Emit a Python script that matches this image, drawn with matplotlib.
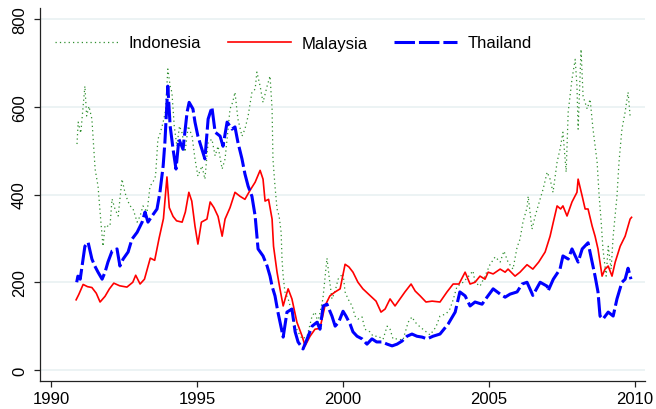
import numpy as np
import matplotlib
matplotlib.use("Agg")
import matplotlib.pyplot as plt

# stock index levels (decimal years)
idn_t = [1990.89, 1990.93, 1991.02, 1991.10, 1991.16, 1991.22, 1991.30, 1991.40, 1991.51, 1991.61,
         1991.70, 1991.78, 1991.85, 1991.92, 1992.02, 1992.09, 1992.19, 1992.30, 1992.43, 1992.53,
         1992.63, 1992.71, 1992.81, 1992.95, 1993.05, 1993.15, 1993.29, 1993.39, 1993.49, 1993.58,
         1993.66, 1993.74, 1993.84, 1993.92, 1994.00, 1994.08, 1994.14, 1994.22, 1994.31, 1994.40,
         1994.49, 1994.59, 1994.70, 1994.83, 1994.93, 1995.03, 1995.17, 1995.27, 1995.38, 1995.51,
         1995.62, 1995.72, 1995.86, 1995.96, 1996.05, 1996.13, 1996.22, 1996.30, 1996.40, 1996.54,
         1996.64, 1996.75, 1996.88, 1996.99, 1997.05, 1997.16, 1997.26, 1997.40, 1997.50, 1997.57,
         1997.60, 1997.67, 1997.74, 1997.81, 1997.88, 1997.91, 1997.95, 1998.01, 1998.12, 1998.25,
         1998.36, 1998.46, 1998.60, 1998.77, 1998.94, 1999.04, 1999.14, 1999.31, 1999.45, 1999.52,
         1999.62, 1999.73, 1999.83, 2000.00, 2000.07, 2000.17, 2000.31, 2000.41, 2000.51, 2000.65,
         2000.75, 2000.92, 2001.03, 2001.20, 2001.37, 2001.51, 2001.61, 2001.71, 2001.88, 2002.05,
         2002.23, 2002.36, 2002.47, 2002.64, 2002.81, 2002.98, 2003.18, 2003.32, 2003.53, 2003.66,
         2003.77, 2003.90, 2004.11, 2004.28, 2004.45, 2004.52, 2004.69, 2004.86, 2005.03, 2005.21,
         2005.38, 2005.51, 2005.65, 2005.82, 2005.96, 2006.06, 2006.16, 2006.30, 2006.34, 2006.47,
         2006.58, 2006.75, 2006.85, 2006.99, 2007.09, 2007.19, 2007.33, 2007.43, 2007.53, 2007.64,
         2007.71, 2007.84, 2007.95, 2008.01, 2008.05, 2008.15, 2008.22, 2008.36, 2008.46, 2008.56,
         2008.70, 2008.77, 2008.84, 2008.90, 2009.01, 2009.08, 2009.18, 2009.25, 2009.38, 2009.45,
         2009.55, 2009.66, 2009.76, 2009.83]
idn_v = [515, 565, 540, 601, 647, 579, 601, 572, 458, 419,
         344, 282, 330, 328, 328, 390, 367, 351, 435, 405,
         385, 374, 367, 337, 351, 374, 360, 419, 428, 442,
         526, 540, 565, 590, 686, 647, 633, 556, 510, 556,
         540, 497, 556, 533, 481, 442, 465, 435, 519, 526,
         488, 510, 458, 481, 540, 595, 610, 633, 572, 533,
         549, 579, 633, 640, 679, 647, 610, 647, 670, 595,
         481, 419, 367, 351, 314, 253, 214, 178, 162, 132,
         100, 87, 71, 77, 123, 132, 109, 162, 255, 214,
         162, 180, 207, 220, 178, 162, 146, 123, 116, 121,
         93, 87, 77, 77, 70, 100, 93, 71, 71, 68,
         109, 121, 109, 98, 89, 80, 98, 123, 128, 139,
         160, 190, 200, 212, 226, 200, 191, 214, 240, 258,
         246, 271, 246, 230, 280, 298, 337, 370, 396, 321,
         351, 390, 412, 451, 435, 405, 474, 503, 542, 451,
         588, 663, 708, 647, 549, 731, 624, 595, 617, 549,
         474, 396, 337, 276, 214, 282, 230, 305, 396, 474,
         549, 588, 633, 579]

mys_t = [1990.86, 1990.95, 1991.10, 1991.25, 1991.40, 1991.55, 1991.68, 1991.85, 1992.00, 1992.15,
         1992.35, 1992.60, 1992.80, 1992.90, 1993.05, 1993.20, 1993.40, 1993.55, 1993.70, 1993.85,
         1993.97, 1994.05, 1994.18, 1994.30, 1994.49, 1994.60, 1994.72, 1994.82, 1994.93, 1995.03,
         1995.15, 1995.34, 1995.45, 1995.58, 1995.72, 1995.86, 1995.96, 1996.13, 1996.30, 1996.47,
         1996.64, 1996.82, 1996.99, 1997.16, 1997.26, 1997.33, 1997.45, 1997.57, 1997.62, 1997.74,
         1997.84, 1997.95, 1998.05, 1998.12, 1998.25, 1998.42, 1998.60, 1998.70, 1998.87, 1999.04,
         1999.21, 1999.38, 1999.55, 1999.73, 1999.90, 2000.07, 2000.20, 2000.34, 2000.51, 2000.68,
         2000.92, 2001.13, 2001.30, 2001.44, 2001.61, 2001.78, 2001.95, 2002.12, 2002.33, 2002.47,
         2002.64, 2002.84, 2003.05, 2003.32, 2003.56, 2003.77, 2003.97, 2004.18, 2004.35, 2004.52,
         2004.69, 2004.86, 2004.97, 2005.14, 2005.38, 2005.55, 2005.65, 2005.89, 2006.06, 2006.30,
         2006.50, 2006.70, 2006.92, 2007.09, 2007.20, 2007.33, 2007.45, 2007.53, 2007.67, 2007.84,
         2008.01, 2008.05, 2008.19, 2008.29, 2008.39, 2008.53, 2008.63, 2008.73, 2008.87, 2008.97,
         2009.08, 2009.21, 2009.32, 2009.49, 2009.66, 2009.83, 2009.88]
mys_v = [160, 172, 195, 190, 188, 175, 155, 168, 185, 198,
         192, 189, 200, 216, 196, 207, 255, 250, 300, 345,
         440, 370, 350, 340, 337, 360, 405, 385, 328, 287,
         337, 344, 383, 370, 350, 305, 344, 370, 405, 396,
         389, 410, 428, 455, 435, 385, 389, 344, 282, 223,
         185, 146, 170, 185, 162, 109, 77, 55, 77, 93,
         95, 146, 169, 178, 185, 241, 235, 223, 200, 185,
         170, 157, 132, 139, 162, 146, 162, 178, 196, 180,
         169, 155, 157, 155, 178, 196, 196, 223, 196, 200,
         214, 207, 223, 219, 230, 223, 230, 214, 223, 240,
         230, 246, 269, 305, 337, 374, 367, 374, 351, 383,
         405, 435, 396, 367, 367, 328, 305, 276, 214, 230,
         237, 214, 246, 282, 305, 344, 348]

tha_t = [1990.88, 1990.92, 1991.00, 1991.16, 1991.27, 1991.40, 1991.50, 1991.61, 1991.75, 1991.85,
         1991.95, 1992.09, 1992.26, 1992.36, 1992.47, 1992.64, 1992.77, 1992.95, 1993.12, 1993.22,
         1993.32, 1993.46, 1993.63, 1993.73, 1993.84, 1993.90, 1994.00, 1994.08, 1994.18, 1994.28,
         1994.38, 1994.52, 1994.66, 1994.73, 1994.86, 1994.93, 1995.03, 1995.17, 1995.27, 1995.38,
         1995.51, 1995.62, 1995.79, 1995.89, 1996.03, 1996.20, 1996.30, 1996.40, 1996.54, 1996.64,
         1996.75, 1996.88, 1996.99, 1997.09, 1997.26, 1997.40, 1997.50, 1997.57, 1997.67, 1997.77,
         1997.95, 1998.08, 1998.25, 1998.36, 1998.46, 1998.63, 1998.77, 1998.94, 1999.11, 1999.21,
         1999.32, 1999.45, 1999.62, 1999.73, 1999.85, 2000.00, 2000.10, 2000.24, 2000.34, 2000.48,
         2000.65, 2000.82, 2000.99, 2001.15, 2001.34, 2001.51, 2001.68, 2001.85, 2002.02, 2002.19,
         2002.36, 2002.53, 2002.71, 2002.88, 2003.08, 2003.32, 2003.60, 2003.84, 2004.00, 2004.18,
         2004.35, 2004.52, 2004.76, 2004.93, 2005.14, 2005.38, 2005.55, 2005.72, 2005.96, 2006.13,
         2006.30, 2006.50, 2006.75, 2006.99, 2007.02, 2007.20, 2007.43, 2007.53, 2007.71, 2007.84,
         2007.95, 2008.05, 2008.19, 2008.39, 2008.53, 2008.63, 2008.73, 2008.80, 2008.90, 2009.08,
         2009.25, 2009.38, 2009.55, 2009.66, 2009.76, 2009.86]
tha_v = [200, 214, 207, 282, 291, 253, 237, 223, 207, 223,
         246, 271, 276, 237, 253, 269, 298, 314, 337, 360,
         337, 351, 367, 405, 465, 519, 647, 556, 503, 458,
         526, 503, 588, 610, 595, 565, 533, 503, 481, 572,
         599, 542, 533, 510, 565, 549, 554, 519, 481, 447,
         419, 396, 351, 276, 260, 237, 214, 191, 169, 132,
         75, 132, 139, 87, 64, 48, 71, 100, 109, 93,
         146, 150, 123, 100, 109, 134, 123, 105, 87, 77,
         71, 59, 71, 64, 64, 59, 55, 59, 66, 77,
         82, 77, 75, 71, 77, 82, 105, 132, 178, 169,
         146, 155, 150, 166, 185, 173, 166, 173, 178, 196,
         200, 170, 200, 191, 180, 207, 230, 260, 253, 276,
         260, 246, 276, 290, 246, 214, 178, 123, 116, 132,
         123, 162, 200, 207, 232, 207]

yticks = [0, 200, 400, 600, 800]
xticks = [1990, 1995, 2000, 2005, 2010]

plt.rcParams['font.family'] = ['Liberation Sans', 'DejaVu Sans']

fig = plt.figure(figsize=(6.56, 4.10), dpi=100)
ax = fig.add_axes([40/656, 1 - 382/410, 605/656, 373/410])

ax.plot(idn_t, idn_v, color='#2f8f2f', lw=0.9, dashes=(1, 2.5), label='Indonesia')
ax.plot(mys_t, mys_v, color='red', lw=1.2, label='Malaysia')
ax.plot(tha_t, tha_v, color='blue', lw=2.2, dashes=(6.7, 1.3), label='Thailand')

ax.set_xlim(1989.623, 2010.34)
ax.set_ylim(-25, 825)
ax.set_xticks(xticks)
ax.set_yticks(yticks)
ax.yaxis.grid(True, color='#eaf2f3', lw=1.3)
ax.set_axisbelow(True)
for s in ['top', 'right']:
    ax.spines[s].set_visible(False)
for s in ['left', 'bottom']:
    ax.spines[s].set_color('#222222')
    ax.spines[s].set_linewidth(0.9)
ax.tick_params(axis='both', direction='out', length=4.3, width=0.9, color='#222222', labelsize=12)
ax.tick_params(axis='y', pad=5)
ax.tick_params(axis='x', pad=3)
for lab in ax.get_yticklabels():
    lab.set_rotation(90)
    lab.set_va('center')

ax.legend(loc='center left', bbox_to_anchor=((55 - 40) / 605, (382 - 44) / 373), ncol=3,
          frameon=False, fontsize=12, handlelength=3.78, handletextpad=0.66,
          columnspacing=1.56, borderpad=0, borderaxespad=0)

fig.savefig('out.png', dpi=100)
